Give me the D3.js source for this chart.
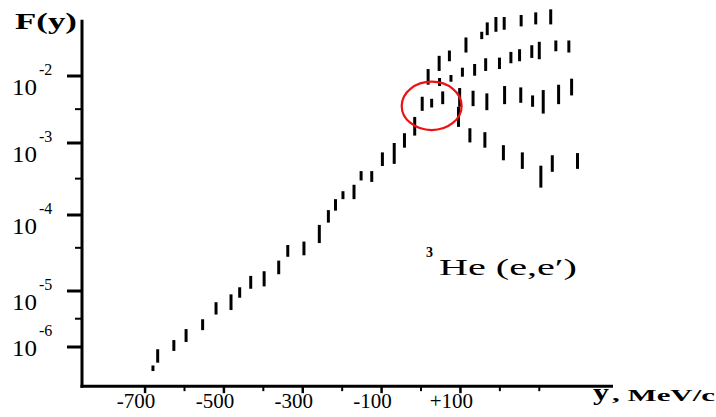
<!DOCTYPE html>
<html><head><meta charset="utf-8">
<script src="https://cdn.jsdelivr.net/npm/d3@7"></script>
</head><body style="margin:0;background:#fff">
<svg id="c" width="716" height="417" font-family="Liberation Serif, Times New Roman, serif"></svg>
<script>
// ---------- data (y in MeV/c, F(y) bar top / bottom) ----------
const seriesNames = ["common", "branch1", "branch2", "branch3", "branch4"];

const yCommon  = [-680,-668,-627,-596,-554,-520,-482,-460,-432,-398,-361,-338,-297,-258,-235,-217,-198,-170,-152,-125,-98,-68,-42,-16];
const hiCommon = [4.68e-7,9.12e-7,1.33e-6,2.09e-6,3.13e-6,6.31e-6,8.71e-6,1.12e-5,1.58e-5,1.82e-5,2.51e-5,4.03e-5,4.47e-5,7.41e-5,1.17e-4,1.66e-4,2.14e-4,2.63e-4,4.07e-4,4.07e-4,7.41e-4,1.0e-3,1.40e-3,2.45e-3];
const loCommon = [3.72e-7,5.25e-7,8.51e-7,1.23e-6,2.0e-6,3.80e-6,4.57e-6,7.59e-6,1.07e-5,1.15e-5,1.66e-5,2.82e-5,2.95e-5,4.27e-5,7.94e-5,1.15e-4,1.66e-4,1.66e-4,3.02e-4,2.88e-4,4.79e-4,5.13e-4,8.61e-4,1.29e-3];

const yB1  = [18,46,72,114,154,168,190,211,254,291,329];
const hiB1 = [1.27e-2,2.0e-2,2.40e-2,3.76e-2,4.57e-2,6.31e-2,7.59e-2,7.59e-2,8.13e-2,8.91e-2,9.89e-2];
const loB1 = [7.41e-3,1.19e-2,1.66e-2,2.24e-2,3.55e-2,4.07e-2,4.57e-2,4.90e-2,5.50e-2,5.89e-2,5.89e-2];

const yB2  = [47,76,105,136,164,199,228,250,281,300,342,375];
const hiB2 = [9.33e-3,1.035e-2,1.33e-2,1.51e-2,1.84e-2,1.88e-2,2.29e-2,2.51e-2,2.88e-2,3.24e-2,3.39e-2,3.39e-2];
const loB2 = [7.08e-3,8.22e-3,9.77e-3,1.01e-2,1.19e-2,1.27e-2,1.55e-2,1.66e-2,1.86e-2,1.78e-2,2.34e-2,2.24e-2];

const yB3  = [3,27,55,98,132,167,212,253,283,310,349,382];
const hiB3 = [4.90e-3,4.57e-3,5.89e-3,6.61e-3,6.03e-3,5.50e-3,7.08e-3,6.76e-3,5.13e-3,6.17e-3,7.41e-3,9.12e-3];
const loB3 = [3.02e-3,3.39e-3,3.80e-3,3.47e-3,3.55e-3,3.09e-3,3.80e-3,3.98e-3,3.47e-3,2.75e-3,3.80e-3,5.13e-3];

const yB4  = [95,124,162,209,257,304,333,397];
const hiB4 = [3.47e-3,1.66e-3,1.45e-3,9.33e-4,7.41e-4,4.84e-4,6.76e-4,7.24e-4];
const loB4 = [1.74e-3,1.02e-3,8.61e-4,5.75e-4,4.37e-4,2.40e-4,3.98e-4,4.37e-4];

const xMinorTicks = [-600,-400,-200,0,200,300];
const xLabelTicks = [-700,-500,-300,-100,100];
const xTickLabels = ["-700","-500","-300","-100","+100"];

const yMajorTicks = [1e-2,1e-3,1e-4,1e-5,1e-6];
const yTickExps   = ["-2","-3","-4","-5","-6"];
const yMinorTicks = [3.2e-3,3.2e-4,3.7e-5,3.2e-6];

// circled region (y range in MeV/c, F range)
const circleY = [-49,103];
const circleF = [1.56e-3,8.22e-3];

// ---------- scales ----------
const xDomain = [-860,487];
const fAxisRange = [2.0e-7,6.9e-2];
const x = d3.scaleLinear().domain(xDomain).range([82,613]);
const y = d3.scaleLog().domain([1e-6,1e-5,1e-4,1e-3,1e-2]).range([347,291,215,143,76]);

const svg = d3.select("#c");
const x0 = x(xDomain[0]);
const yBase = y(fAxisRange[0]);

// ---------- axes ----------
svg.append("line").attr("x1",x0).attr("x2",x0)
  .attr("y1",y(fAxisRange[1])).attr("y2",yBase+1.5)
  .attr("stroke","#000").attr("stroke-width",3);
svg.append("line").attr("x1",x0-1.5).attr("x2",x(xDomain[1]))
  .attr("y1",yBase).attr("y2",yBase)
  .attr("stroke","#000").attr("stroke-width",3);

// ticks: built as segments in groups, like the data bars
const tickSegs = [
  ...yMajorTicks.map(d=>({x1:x0-15,x2:x0,y1:y(d),y2:y(d),w:3})),
  ...yMinorTicks.map(d=>({x1:x0-7,x2:x0,y1:y(d),y2:y(d),w:2})),
  ...xLabelTicks.map(d=>({x1:x(d),x2:x(d),y1:yBase,y2:yBase+7,w:2.5})),
  ...xMinorTicks.map(d=>({x1:x(d),x2:x(d),y1:yBase,y2:yBase+5,w:2}))
];
svg.append("g").attr("class","ticks").selectAll("line").data(tickSegs).join("line")
  .attr("x1",d=>d.x1).attr("x2",d=>d.x2).attr("y1",d=>d.y1).attr("y2",d=>d.y2)
  .attr("stroke","#000").attr("stroke-width",d=>d.w);

// ---------- data bars ----------
const series = [
  [yCommon,hiCommon,loCommon],
  [yB1,hiB1,loB1],
  [yB2,hiB2,loB2],
  [yB3,hiB3,loB3],
  [yB4,hiB4,loB4]
];
series.forEach((s,k)=>{
  const rows = s[0].map((v,i)=>({v,hi:s[1][i],lo:s[2][i]}));
  svg.append("g").attr("class",seriesNames[k]).selectAll("line").data(rows).join("line")
    .attr("x1",d=>x(d.v)).attr("x2",d=>x(d.v))
    .attr("y1",d=>y(d.hi)).attr("y2",d=>y(d.lo))
    .attr("stroke","#000").attr("stroke-width",3);
});

// ---------- circle annotation ----------
const cx = (x(circleY[0])+x(circleY[1]))/2, cy = (y(circleF[0])+y(circleF[1]))/2;
svg.append("ellipse").attr("cx",cx).attr("cy",cy)
  .attr("rx",(x(circleY[1])-x(circleY[0]))/2).attr("ry",(y(circleF[0])-y(circleF[1]))/2)
  .attr("fill","none").attr("stroke","#ee1111").attr("stroke-width",2.2);

// ---------- texts ----------
const lift = d => d === 1e-6 ? 10 : 0;
yMajorTicks.forEach((d,i)=>{
  svg.append("text").attr("x",12).attr("y",y(d)+19-lift(d))
    .attr("font-size",23).attr("textLength",25).attr("lengthAdjust","spacingAndGlyphs").text("10");
  svg.append("text").attr("x",39).attr("y",y(d)-1-lift(d))
    .attr("font-size",16).text(yTickExps[i]);
});
svg.selectAll("text.xlab").data(xLabelTicks).join("text").attr("class","xlab")
  .attr("x",d=>x(d)-9).attr("y",408).attr("text-anchor","middle")
  .attr("font-size",21).text((d,i)=>xTickLabels[i]);

svg.append("text").attr("x",15).attr("y",29).attr("font-size",24).attr("font-weight","bold")
  .attr("textLength",62).attr("lengthAdjust","spacingAndGlyphs").text("F(y)");
svg.append("text").attr("x",593).attr("y",400).attr("font-size",23).attr("font-weight","bold")
  .attr("textLength",16).attr("lengthAdjust","spacingAndGlyphs").text("y");
svg.append("text").attr("x",612).attr("y",401).attr("font-size",17).attr("font-weight","bold")
  .attr("textLength",103).attr("lengthAdjust","spacingAndGlyphs").text(", MeV/c");

svg.append("text").attr("x",426).attr("y",257).attr("font-size",14).attr("font-weight","bold").text("3");
svg.append("text").attr("x",439).attr("y",275).attr("font-size",24)
  .attr("textLength",138).attr("lengthAdjust","spacingAndGlyphs").text("He (e,e\u2032)");
</script>
</body></html>
